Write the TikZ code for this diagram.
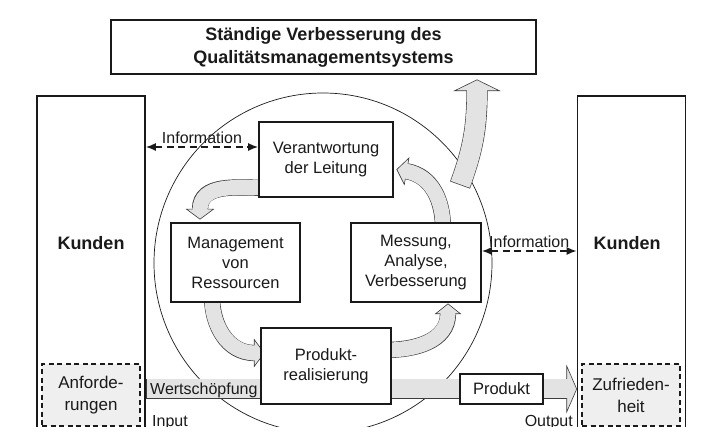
\documentclass[tikz,border=0pt]{standalone}
\usepackage{fontspec}
\setmainfont{Liberation Sans}
\usepackage{tikz}
\usetikzlibrary{positioning, calc, arrows.meta, backgrounds}
\definecolor{qm-ink}{HTML}{1A1A1A}
\definecolor{qm-rim}{HTML}{3C3C3C}
\definecolor{qm-fill}{HTML}{E3E3E3}
\definecolor{qm-soft}{HTML}{EFEFEF}

\begin{document}
\begin{tikzpicture}[x=1pt, y=1pt,
    box/.style={draw=qm-ink, line width=1.6pt, fill=white, inner sep=0pt, align=center,
        font=\fontsize{16.5}{20}\selectfont, text=qm-ink},
    column/.style={draw=qm-ink, line width=1.6pt, fill=white, inner sep=0pt,
        minimum width=108pt, minimum height=343pt},
    wish/.style={draw=qm-ink, line width=1.3pt, dash pattern=on 5pt off 3.5pt, fill=qm-soft,
        inner sep=0pt, minimum width=98pt, minimum height=62pt, align=center,
        font=\fontsize{17}{22}\selectfont, text=qm-ink},
    kunde/.style={font=\fontsize{18}{22}\selectfont\bfseries, text=qm-ink},
    tag/.style={font=\fontsize{16}{18}\selectfont, text=qm-ink, inner sep=1pt},
    info/.style={draw=qm-ink, line width=1.6pt, dash pattern=on 7pt off 4.5pt,
        {Latex[length=10pt,width=8pt]}-{Latex[length=10pt,width=8pt]}},
    ring/.style={draw=qm-ink, line width=0.7pt},
    fatrim/.style={draw=qm-rim},
    fatcore/.style={draw=qm-fill},
    fathead/.style={draw=qm-rim, fill=qm-fill, line width=0.6pt, line join=miter}]

    \useasboundingbox (0,0) rectangle (723,439);
    \clip (0,12) rectangle (723,439);

    % top banner
    \node[box, minimum width=425pt, minimum height=54pt,
        font=\fontsize{18}{23}\selectfont\bfseries] (qm) at (323.5,392)
        {Ständige Verbesserung des\\Qualitätsmanagementsystems};

    % customers left and right
    \node[column] (kl) at (91,171.5) {};
    \node[column] (kr) at (631.5,171.5) {};
    \node[kunde] (kdl) at (91,196) {Kunden};
    \node[kunde] (kdr) at (627,196) {Kunden};
    \node[wish] (anf) at (91,44) {Anforde-\\rungen};
    \node[wish] (zuf) at (631,44) {Zufrieden-\\heit};

    % process boxes
    \node[box, minimum width=134pt, minimum height=75pt] (vl) at (326,279.5) {Verantwortung\\der Leitung};
    \node[box, minimum width=129pt, minimum height=79pt] (mr) at (235.5,176.5) {Management\\von\\Ressourcen};
    \node[box, minimum width=130pt, minimum height=79pt] (mav) at (416,176.5) {Messung,\\Analyse,\\Verbesserung};
    \node[box, minimum width=130pt, minimum height=76pt] (pr) at (326,73) {Produkt-\\realisierung};
    \node[box, minimum width=83pt, minimum height=30pt] (prod) at (501.5,50) {Produkt};

    \coordinate (a1) at ([xshift=6pt,yshift=10pt]vl.south west);
    \coordinate (t1) at ([xshift=-35.5pt,yshift=3pt]mr.north);
    \coordinate (a2) at ([xshift=-23.5pt,yshift=6pt]mr.south);
    \coordinate (t2) at ([xshift=4pt,yshift=13pt]pr.west);
    \coordinate (a3) at ([xshift=-6pt,yshift=16pt]pr.east);
    \coordinate (t3) at ([xshift=32pt,yshift=-1pt]mav.south);
    \coordinate (a4) at ([xshift=27pt,yshift=-6pt]mav.north);
    \coordinate (t4) at ([xshift=3pt,yshift=-10pt]vl.east);
    \coordinate (a5) at (460,254);
    \coordinate (t5) at ([xshift=153.5pt,yshift=-5pt]qm.south);
    \coordinate (a6) at (kl.east |- prod);
    \coordinate (t6) at (kr.west |- prod);

    \begin{scope}[on background layer]
        \clip (0,12) rectangle (723,439);
        \draw[ring] (323,176) ellipse [x radius=169pt, y radius=170pt];
        % fat grey arrows
        \foreach \src/\aout/\tip/\ain/\bw/\hl/\hw in {a1/180/t1/90/15/10/27, a2/270/t2/180/15/10/27,
                a3/0/t3/270/15/10/25, a4/90/t4/-10/15/10/27, a5/70/t5/270/20/11/45, a6/0/t6/180/19/10/46} {
            \coordinate (hb) at ($(\tip)+(\ain:\hl pt)$);
            \draw[fatrim, line width=\bw pt+1.2pt] (\src) to[out=\aout,in=\ain] (hb);
            \filldraw[fathead] (\tip) -- ($(hb)+(\ain+90:\hw pt/2)$) -- ($(hb)+(\ain-90:\hw pt/2)$) -- cycle;
            \draw[fatcore, line width=\bw pt, shorten <=0.7pt, shorten >=-1.2pt] (\src) to[out=\aout,in=\ain] (hb);
        }
    \end{scope}

    % information flows
    \coordinate (i1) at ([yshift=12.5pt]vl.west);
    \coordinate (i2) at ([yshift=11.5pt]mav.east);
    \draw[info] (kl.east |- i1) -- (i1) node[tag, midway, above=2pt] (inf1) {Information};
    \draw[info] (i2) -- (kr.west |- i2) node[tag, midway, above=2pt] (inf2) {Information};

    \node[tag, anchor=west] (ws) at (149,49) {Wertschöpfung};
    \node[tag, anchor=base west] (inp) at (151,12) {Input};
    \node[tag, anchor=base east] (outp) at (574,12) {Output};
\end{tikzpicture}
\end{document}
